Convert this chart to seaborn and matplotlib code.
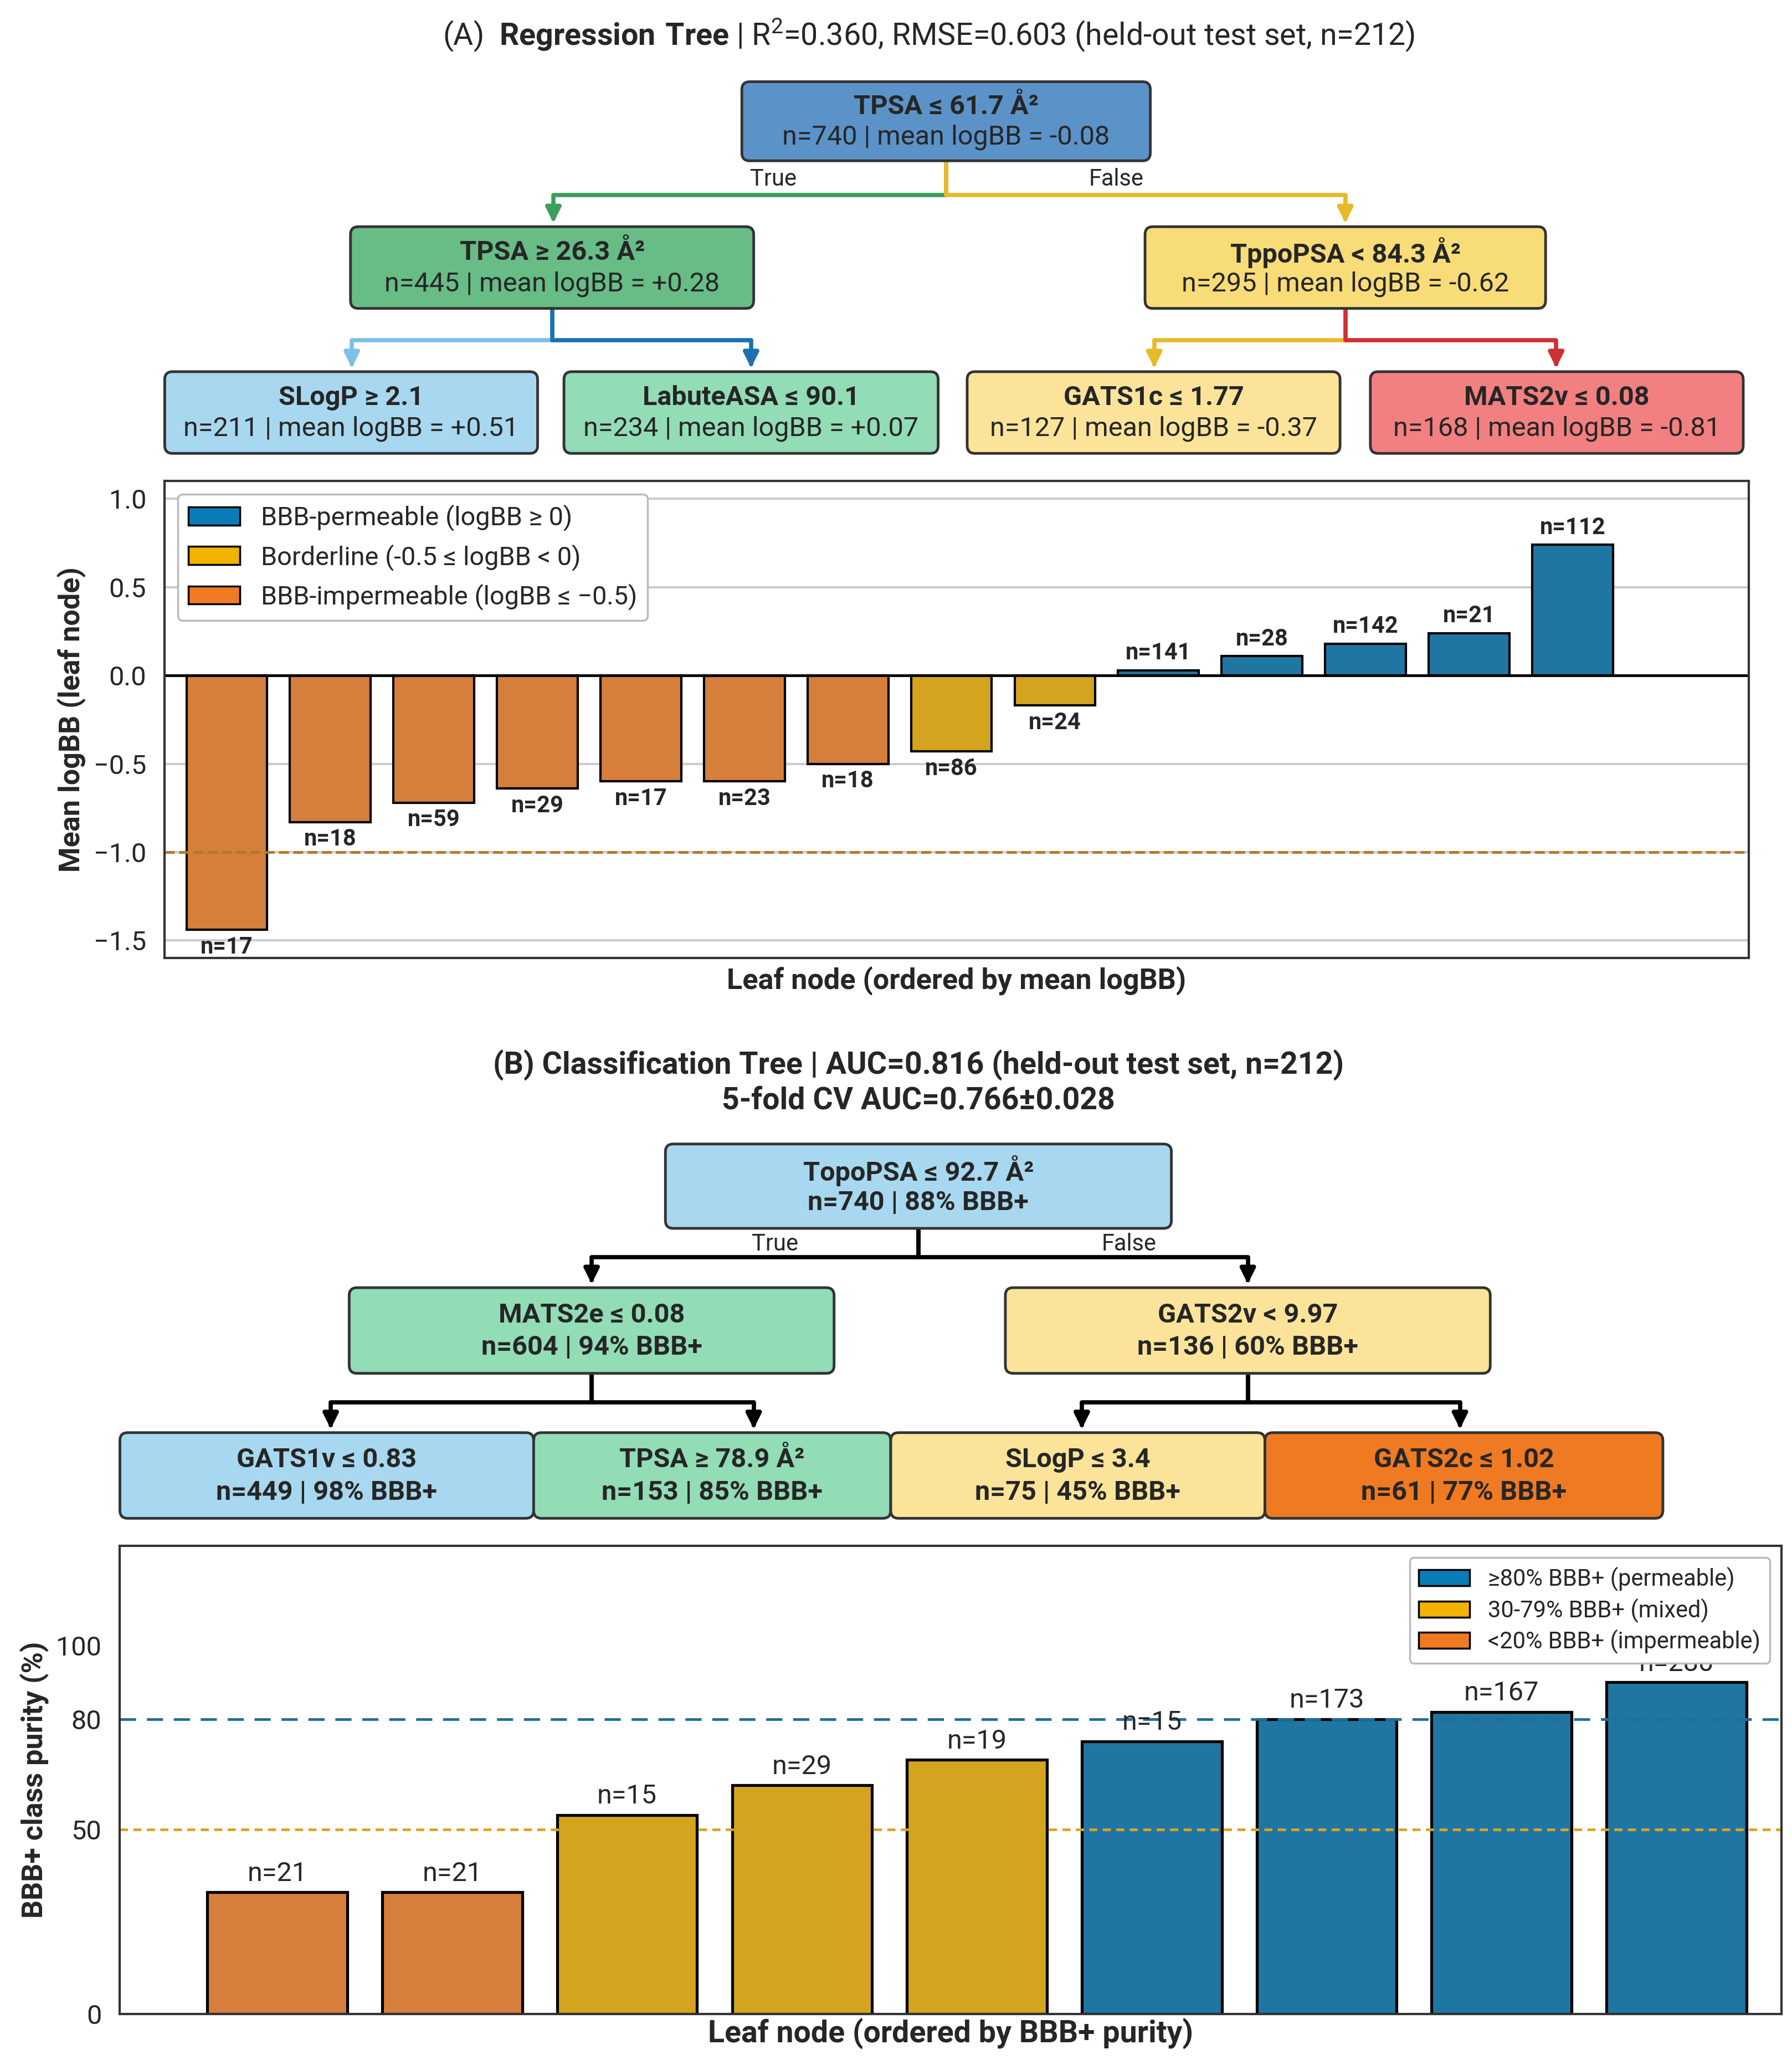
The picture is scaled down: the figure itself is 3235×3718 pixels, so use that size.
import matplotlib
matplotlib.use("Agg")
import matplotlib.pyplot as plt
import seaborn as sns
import pandas as pd
from matplotlib.patches import FancyBboxPatch, Patch

# ---------------- data ----------------
a_leaf = [f"L{i}" for i in range(14)]
a_mean = [-1.44, -0.83, -0.72, -0.64, -0.60, -0.60, -0.50, -0.43, -0.17, 0.03, 0.11, 0.18, 0.24, 0.74]
a_n = [17, 18, 59, 29, 17, 23, 18, 86, 24, 141, 28, 142, 21, 112]
a_cls = ["imp"] * 7 + ["bord"] * 2 + ["perm"] * 5

b_leaf = [f"K{i}" for i in range(9)]
b_pur = [33, 33, 54, 62, 69, 74, 80, 82, 90]
b_n = [21, 21, 15, 29, 19, 15, 173, 167, 280]
b_cls = ["imp"] * 2 + ["mix"] * 3 + ["perm"] * 4

BLUE, YEL, ORA = "#0A7DB8", "#F2B200", "#F07A22"

sns.set_theme(style="white")
plt.rcParams['font.family'] = ['Roboto', 'DejaVu Sans']
plt.rcParams['mathtext.fontset'] = 'custom'
plt.rcParams['mathtext.rm'] = 'Roboto'
plt.rcParams['mathtext.bf'] = 'Roboto:bold'

W, H = 1360, 1563
fig = plt.figure(figsize=(12.94, 14.872), dpi=250)
ov = fig.add_axes([0, 0, 1, 1])
ov.set_xlim(0, W); ov.set_ylim(H, 0); ov.axis("off")

def box(x0, x1, y0, y1, color, l1, l2, bold2=False):
    ov.add_patch(FancyBboxPatch((x0, y0), x1 - x0, y1 - y0, boxstyle="round,pad=0,rounding_size=6",
                                fc=color, ec="#333333", lw=1.4, zorder=3))
    cx = (x0 + x1) / 2
    ov.text(cx, y0 + (y1 - y0) * 0.32, l1, ha="center", va="center", fontsize=14, fontweight="bold", zorder=4)
    ov.text(cx, y0 + (y1 - y0) * 0.70, l2, ha="center", va="center", fontsize=14,
            fontweight="bold" if bold2 else "normal", zorder=4)

def conn(px, py, cx, cy, midy, color):
    ov.plot([px, px, cx, cx], [py, midy, midy, cy - 8], color=color, lw=2.2, zorder=2, solid_capstyle="butt")
    ov.annotate("", xy=(cx, cy), xytext=(cx, cy - 10),
                arrowprops=dict(arrowstyle="-|>", color=color, lw=2.2, mutation_scale=16), zorder=2)

# ---------- Panel A tree ----------
ov.text(W / 2 + 25, 27, r"(A)  $\bf{Regression\ Tree}$ | R$^2$=0.360, RMSE=0.603 (held-out test set, n=212)",
        ha="center", va="center", fontsize=16)
conn(718, 122, 420, 172, 148, "#3A9E5C")
conn(718, 122, 1021, 172, 148, "#E8B928")
ov.text(587, 136, "True", ha="center", va="center", fontsize=12)
ov.text(847, 136, "False", ha="center", va="center", fontsize=12)
conn(419, 234, 267, 282, 258, "#7CC0E8")
conn(419, 234, 570, 282, 258, "#1A72B0")
conn(1021, 234, 876, 282, 258, "#E8B928")
conn(1021, 234, 1181, 282, 258, "#D03030")
box(563, 873, 62, 122, "#5B93C9", "TPSA ≤ 61.7 Å²", "n=740 | mean logBB = -0.08")
box(266, 572, 172, 234, "#68BC86", "TPSA ≥ 26.3 Å²", "n=445 | mean logBB = +0.28")
box(869, 1173, 172, 234, "#F8DC78", "TppoPSA < 84.3 Å²", "n=295 | mean logBB = -0.62")
box(125, 408, 282, 344, "#A8D8F0", "SLogP ≥ 2.1", "n=211 | mean logBB = +0.51")
box(428, 712, 282, 344, "#92DCB6", "LabuteASA ≤ 90.1", "n=234 | mean logBB = +0.07")
box(734, 1017, 282, 344, "#FBE49A", "GATS1c ≤ 1.77", "n=127 | mean logBB = -0.37")
box(1040, 1323, 282, 344, "#F28080", "MATS2v ≤ 0.08", "n=168 | mean logBB = -0.81")

# ---------- Panel A bars ----------
axA = fig.add_axes([125 / W, 1 - 727 / H, 1202 / W, 362 / H])
dfA = pd.DataFrame({"leaf": a_leaf, "mean": a_mean, "cls": a_cls})
sns.barplot(data=dfA, x="leaf", y="mean", hue="cls", palette={"perm": BLUE, "bord": YEL, "imp": ORA},
            dodge=False, ax=axA, edgecolor="black", linewidth=1.2, width=0.78, legend=False)
for c in axA.containers:
    labs = [f"n={a_n[a_leaf.index(t.get_text())]}" for t in []]  # placeholder
lab_iter = {}
for c in axA.containers:
    labs = []
    for p in c.patches:
        i = int(round(p.get_x() + p.get_width() / 2))
        labs.append(f"n={a_n[i]}")
    axA.bar_label(c, labels=labs, padding=3, fontsize=12, fontweight="bold")
axA.axhline(0, color="black", lw=1.4)
axA.axhline(-1.0, color="#B07A2A", lw=1.4, ls="--")
axA.set_ylim(-1.6, 1.1)
axA.set_xlim(-0.6, 14.7)
axA.set_yticks([-1.5, -1.0, -0.5, 0.0, 0.5, 1.0])
axA.set_yticklabels(["−1.5", "−1.0", "−0.5", "0.0", "0.5", "1.0"], fontsize=14)
axA.set_xticks([])
axA.yaxis.grid(True, color="#cccccc", lw=1.2)
axA.set_axisbelow(True)
axA.set_ylabel("Mean logBB (leaf node)", fontsize=15, fontweight="bold")
axA.set_xlabel("Leaf node (ordered by mean logBB)", fontsize=15, fontweight="bold")
for s in axA.spines.values():
    s.set_color("#333333"); s.set_linewidth(1.2)
hA = [Patch(fc=BLUE, ec="black", label="BBB-permeable (logBB ≥ 0)"),
      Patch(fc=YEL, ec="black", label="Borderline (-0.5 ≤ logBB < 0)"),
      Patch(fc=ORA, ec="black", label="BBB-impermeable (logBB ≤ −0.5)")]
axA.legend(handles=hA, loc="upper left", fontsize=13.5, frameon=True, framealpha=1, edgecolor="#bbbbbb")

# ---------- Panel B tree ----------
ov.text(697, 808, "(B) Classification Tree | AUC=0.816 (held-out test set, n=212)", ha="center", va="center",
        fontsize=16, fontweight="bold")
ov.text(697, 835, "5-fold CV AUC=0.766±0.028", ha="center", va="center", fontsize=16, fontweight="bold")
conn(697, 932, 449, 977, 954, "black")
conn(697, 932, 947, 977, 954, "black")
ov.text(588, 944, "True", ha="center", va="center", fontsize=12)
ov.text(857, 944, "False", ha="center", va="center", fontsize=12)
conn(449, 1042, 251, 1087, 1064, "black")
conn(449, 1042, 572, 1087, 1064, "black")
conn(947, 1042, 821, 1087, 1064, "black")
conn(947, 1042, 1108, 1087, 1064, "black")
box(505, 889, 868, 932, "#A8D8F0", "TopoPSA ≤ 92.7 Å²", "n=740 | 88% BBB+", True)
box(265, 633, 977, 1042, "#92DCB6", "MATS2e ≤ 0.08", "n=604 | 94% BBB+", True)
box(763, 1131, 977, 1042, "#FBE49A", "GATS2v < 9.97", "n=136 | 60% BBB+", True)
box(91, 405, 1087, 1152, "#A8D8F0", "GATS1v ≤ 0.83", "n=449 | 98% BBB+", True)
box(405, 676, 1087, 1152, "#92DCB6", "TPSA ≥ 78.9 Å²", "n=153 | 85% BBB+", True)
box(676, 960, 1087, 1152, "#FBE49A", "SLogP ≤ 3.4", "n=75 | 45% BBB+", True)
box(960, 1262, 1087, 1152, "#F07A22", "GATS2c ≤ 1.02", "n=61 | 77% BBB+", True)

# ---------- Panel B bars ----------
axB = fig.add_axes([91 / W, 1 - 1528 / H, 1261 / W, 355 / H])
dfB = pd.DataFrame({"leaf": b_leaf, "pur": b_pur, "cls": b_cls})
sns.barplot(data=dfB, x="leaf", y="pur", hue="cls", palette={"perm": BLUE, "mix": YEL, "imp": ORA},
            dodge=False, ax=axB, edgecolor="black", linewidth=1.5, width=0.8, legend=False)
for c in axB.containers:
    labs = []
    for p in c.patches:
        i = int(round(p.get_x() + p.get_width() / 2))
        labs.append(f"n={b_n[i]}")
    axB.bar_label(c, labels=labs, padding=3, fontsize=14)
axB.axhline(80, color="#1F6E9C", lw=1.4, ls=(0, (6, 4)))
axB.axhline(50, color="#D9A520", lw=1.4, ls=(0, (3, 2)))
axB.set_ylim(0, 127)
axB.set_xlim(-0.9, 8.6)
axB.set_yticks([0, 50, 80, 100])
axB.tick_params(axis="y", labelsize=14)
axB.set_xticks([])
axB.set_ylabel("BBB+ class purity (%)", fontsize=15, fontweight="bold")
axB.set_xlabel("Leaf node (ordered by BBB+ purity)", fontsize=16, fontweight="bold", labelpad=2)
for s in axB.spines.values():
    s.set_color("#333333"); s.set_linewidth(1.2)
hB = [Patch(fc=BLUE, ec="black", label="≥80% BBB+ (permeable)"),
      Patch(fc=YEL, ec="black", label="30-79% BBB+ (mixed)"),
      Patch(fc=ORA, ec="black", label="<20% BBB+ (impermeable)")]
axB.legend(handles=hB, loc="upper right", fontsize=12, frameon=True, framealpha=1, edgecolor="#bbbbbb",
           handlelength=2.2, labelspacing=0.3, borderpad=0.4)

fig.savefig("out.png", dpi=250)
